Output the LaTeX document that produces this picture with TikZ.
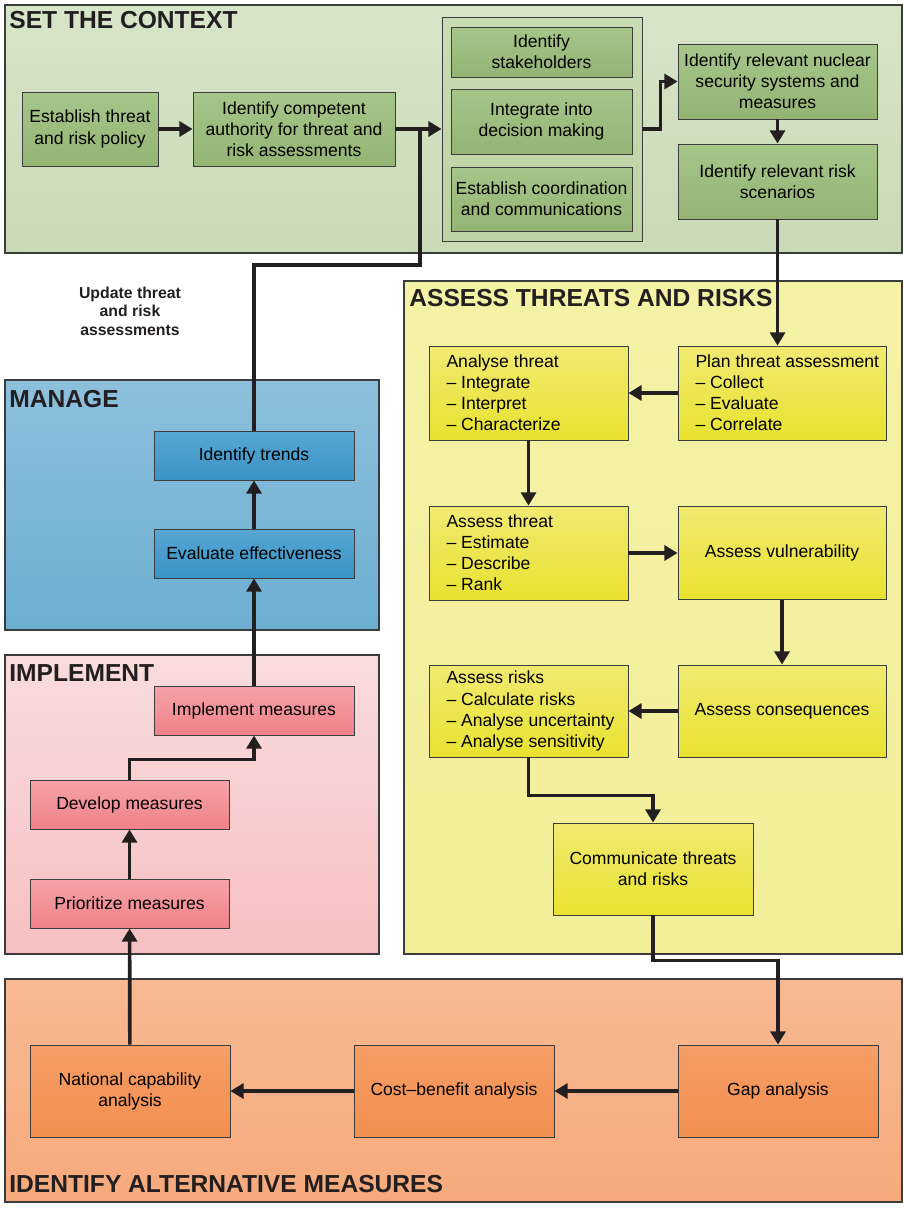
\documentclass[tikz,border=0pt]{standalone}
\usepackage{fontspec}
\setmainfont{Liberation Sans}
\usetikzlibrary{arrows.meta}
\usetikzlibrary{positioning}

\definecolor{edge}{HTML}{3C3C3C}
\definecolor{ink}{HTML}{231F20}
\definecolor{ctxtop}{HTML}{D7E5C9}
\definecolor{ctxbot}{HTML}{C8DAB6}
\definecolor{ctxboxtop}{HTML}{A6C68A}
\definecolor{ctxboxbot}{HTML}{93B473}
\definecolor{grptop}{HTML}{C9DCB4}
\definecolor{grpbot}{HTML}{BCD3A3}
\definecolor{asstop}{HTML}{F5F2A6}
\definecolor{assbot}{HTML}{F2EE98}
\definecolor{assboxtop}{HTML}{F0EA72}
\definecolor{assboxbot}{HTML}{E9E22F}
\definecolor{mantop}{HTML}{8DC0DB}
\definecolor{manbot}{HTML}{6CAED1}
\definecolor{manboxtop}{HTML}{56A6D3}
\definecolor{manboxbot}{HTML}{3A94C6}
\definecolor{imptop}{HTML}{F9DCDD}
\definecolor{impbot}{HTML}{F6C0C2}
\definecolor{impboxtop}{HTML}{F5A3A9}
\definecolor{impboxbot}{HTML}{F08189}
\definecolor{alttop}{HTML}{F8B993}
\definecolor{altbot}{HTML}{F6AA7C}
\definecolor{altboxtop}{HTML}{F59E67}
\definecolor{altboxbot}{HTML}{F38F4F}

\tikzset{
    box/.style={draw=edge, line width=0.5pt, align=center, inner sep=2pt,
        font=\fontsize{10}{12}\selectfont},
    listbox/.style={box, align=flush left, inner xsep=0pt,
        execute at begin node={\leftskip=0.35cm\relax}},
    ctxbox/.style={box, top color=ctxboxtop, bottom color=ctxboxbot},
    assbox/.style={box, top color=assboxtop, bottom color=assboxbot},
    manbox/.style={box, top color=manboxtop, bottom color=manboxbot},
    impbox/.style={box, top color=impboxtop, bottom color=impboxbot},
    altbox/.style={box, top color=altboxtop, bottom color=altboxbot},
    panel/.style={draw=edge, line width=0.6pt},
    paneltitle/.style={anchor=base west, inner sep=0pt,
        font=\fontsize{14}{16}\selectfont\bfseries, text=ink},
    flow/.style={draw=ink, line width=2.1pt, -{Triangle[length=7.5pt,width=8.5pt]}},
    plain/.style={draw=ink, line width=2.1pt}
}

\begin{document}
\begin{tikzpicture}[x=0.02cm, y=-0.02cm]
        \useasboundingbox (0,0) rectangle (903,1209);

        % Background panels
        \path[panel, top color=ctxtop, bottom color=ctxbot] (5,5) rectangle (902,253);
        \path[panel, top color=asstop, bottom color=assbot] (404,281) rectangle (902,954);
        \path[panel, top color=mantop, bottom color=manbot] (5,380) rectangle (379,630);
        \path[panel, top color=imptop, bottom color=impbot] (5,655) rectangle (379,954);
        \path[panel, top color=alttop, bottom color=altbot] (5,979) rectangle (902,1202);

        % Panel titles
        \node[paneltitle] (tctx) at (9,29) {SET THE CONTEXT};
        \node[paneltitle] (tass) at (409,306) {ASSESS THREATS AND RISKS};
        \node[paneltitle] (tman) at (9,407) {MANAGE};
        \node[paneltitle] (timp) at (9,681) {IMPLEMENT};
        \node[paneltitle] (talt) at (9,1192) {IDENTIFY ALTERNATIVE MEASURES};

        % Set the context
        \node[ctxbox, minimum width=2.72cm, minimum height=1.48cm] (est) at (90,129)
            {Establish threat\\and risk policy};
        \node[ctxbox, minimum width=4.04cm, minimum height=1.48cm] (comp) at (294,129)
            {Identify competent\\authority for threat and\\risk assessments};
        \node[box, top color=grptop, bottom color=grpbot, minimum width=4cm, minimum height=4.48cm] (grp) at (542,129) {};
        \node[ctxbox, minimum width=3.62cm, minimum height=1cm] (stake) at (541.5,52)
            {Identify\\stakeholders};
        \node[ctxbox, minimum width=3.62cm, minimum height=1.3cm] (integ) at (541.5,121.5)
            {Integrate into\\decision making};
        \node[ctxbox, minimum width=3.62cm, minimum height=1.28cm] (coord) at (541.5,199)
            {Establish coordination\\and communications};
        \node[ctxbox, minimum width=3.98cm, minimum height=1.5cm] (nucl) at (777.5,81.5)
            {Identify relevant nuclear\\security systems and\\measures};
        \node[ctxbox, minimum width=3.98cm, minimum height=1.5cm] (scen) at (777.5,181.5)
            {Identify relevant risk\\scenarios};

        % Assess threats and risks
        \node[assbox, listbox, text width=4.16cm, minimum height=1.88cm] (plan) at (782,393)
            {Plan threat assessment\\\textendash\ Collect\\\textendash\ Evaluate\\\textendash\ Correlate};
        \node[assbox, listbox, text width=3.98cm, minimum height=1.88cm] (anal) at (528.5,393)
            {Analyse threat\\\textendash\ Integrate\\\textendash\ Interpret\\\textendash\ Characterize};
        \node[assbox, listbox, text width=3.98cm, minimum height=1.88cm] (asth) at (528.5,553)
            {Assess threat\\\textendash\ Estimate\\\textendash\ Describe\\\textendash\ Rank};
        \node[assbox, minimum width=4.16cm, minimum height=1.86cm] (vuln) at (782,553)
            {Assess vulnerability};
        \node[assbox, listbox, text width=3.98cm, minimum height=1.84cm] (risk) at (528.5,711)
            {Assess risks\\\textendash\ Calculate risks\\\textendash\ Analyse uncertainty\\\textendash\ Analyse sensitivity};
        \node[assbox, minimum width=4.16cm, minimum height=1.84cm] (cons) at (782,711)
            {Assess consequences};
        \node[assbox, minimum width=4cm, minimum height=1.84cm] (comm) at (653,869)
            {Communicate threats\\and risks};

        % Identify alternative measures
        \node[altbox, minimum width=4cm, minimum height=1.84cm] (gap) at (778,1091) {Gap analysis};
        \node[altbox, minimum width=4cm, minimum height=1.84cm] (cost) at (454,1091) {Cost\textendash benefit analysis};
        \node[altbox, minimum width=4cm, minimum height=1.84cm] (natl) at (130,1091)
            {National capability\\analysis};

        % Implement
        \node[impbox, minimum width=3.98cm, minimum height=0.98cm] (prio) at (129.5,903.5) {Prioritize measures};
        \node[impbox, minimum width=3.98cm, minimum height=0.98cm] (devl) at (129.5,804.5) {Develop measures};
        \node[impbox, minimum width=4cm, minimum height=0.98cm] (impl) at (254,710.5) {Implement measures};

        % Manage
        \node[manbox, minimum width=4cm, minimum height=0.98cm] (eval) at (254,553.5) {Evaluate effectiveness};
        \node[manbox, minimum width=4cm, minimum height=0.98cm] (trend) at (254,455.5) {Identify trends};

        \node[align=center, font=\fontsize{9}{10.5}\selectfont\bfseries, text=ink] (upd) at (130,311)
            {Update threat\\and risk\\assessments};

        % Connectors
        \coordinate (bend) at (420,265);
        \coordinate (join) at (420,129);
        \draw[flow] (est) -- (comp);
        \draw[flow] (comp) -- (grp);
        \draw[flow] (grp.east) -- ++(18,0) |- (nucl.west);
        \draw[flow] (nucl) -- (scen);
        \draw[flow] (scen.south) -- (scen.south |- plan.north);
        \draw[flow] (plan) -- (anal);
        \draw[flow] (anal) -- (asth);
        \draw[flow] (asth) -- (vuln);
        \draw[flow] (vuln.south) -- (vuln.south |- cons.north);
        \draw[flow] (cons) -- (risk);
        \draw[flow] (risk.south) -- ++(0,38) -| (comm.north);
        \draw[flow] (comm.south) -- ++(0,45) -| (gap.north);
        \draw[flow] (gap) -- (cost);
        \draw[flow] (cost) -- (natl);
        \draw[flow] (natl) -- (prio);
        \draw[flow] (prio) -- (devl);
        \draw[flow] (devl.north) -- ++(0,-20) -| (impl.south);
        \draw[flow] (impl) -- (eval);
        \draw[flow] (eval) -- (trend);
        \draw[plain] (trend.north) |- (bend) -- (join);

\end{tikzpicture}
\end{document}
